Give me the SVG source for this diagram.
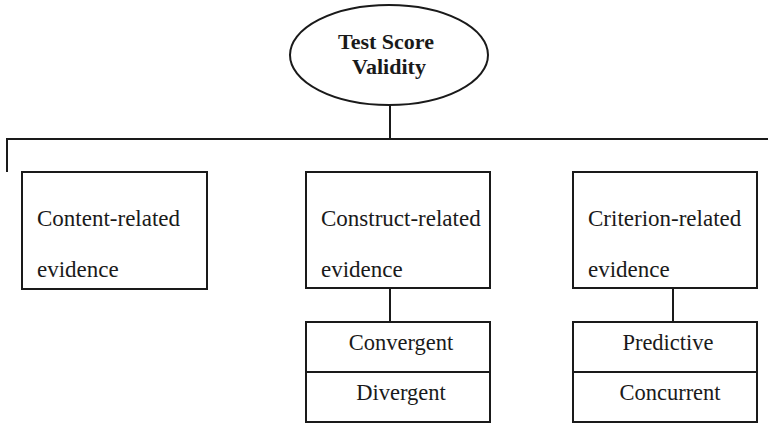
<svg xmlns="http://www.w3.org/2000/svg" width="768" height="424" viewBox="0 0 768 424">
  <style>
    .box { fill: #fff; stroke: #1a1a1a; stroke-width: 2; }
    .wire { fill: none; stroke: #1a1a1a; stroke-width: 2; }
    .lbl { font-family: "Liberation Serif", "Times New Roman", serif; font-size: 23px; fill: #1a1a1a; }
    .sub { font-size: 22.5px; }
    .mid { text-anchor: middle; }
    .title { font-weight: bold; font-size: 22px; }
  </style>
  <rect width="768" height="424" fill="#fff"/>

  <g id="connectors">
    <line class="wire" x1="390" y1="105" x2="390" y2="139"/>
    <polyline class="wire" points="7,172 7,139 768,139"/>
    <line class="wire" x1="390" y1="288" x2="390" y2="322"/>
    <line class="wire" x1="673" y1="288" x2="673" y2="322"/>
  </g>

  <g id="root">
    <ellipse class="box" cx="389" cy="55" rx="99" ry="50"/>
    <text class="lbl title mid" x="386" y="49">Test Score</text>
    <text class="lbl title mid" x="389" y="74">Validity</text>
  </g>

  <g id="content-related">
    <rect class="box" x="22" y="172" width="185" height="117"/>
    <text class="lbl" x="37" y="226">Content-related</text>
    <text class="lbl" x="37" y="277">evidence</text>
  </g>

  <g id="construct-related">
    <rect class="box" x="306" y="172" width="184" height="116"/>
    <text class="lbl" x="321" y="226">Construct-related</text>
    <text class="lbl" x="321" y="277">evidence</text>
  </g>

  <g id="criterion-related">
    <rect class="box" x="573" y="172" width="184" height="116"/>
    <text class="lbl" x="588" y="226">Criterion-related</text>
    <text class="lbl" x="588" y="277">evidence</text>
  </g>

  <g id="construct-types">
    <rect class="box" x="306" y="322" width="184" height="100"/>
    <line class="wire" x1="306" y1="372" x2="490" y2="372"/>
    <text class="lbl sub mid" x="401" y="350">Convergent</text>
    <text class="lbl sub mid" x="401" y="400">Divergent</text>
  </g>

  <g id="criterion-types">
    <rect class="box" x="573" y="322" width="184" height="100"/>
    <line class="wire" x1="573" y1="372" x2="757" y2="372"/>
    <text class="lbl sub mid" x="668" y="350">Predictive</text>
    <text class="lbl sub mid" x="670" y="400">Concurrent</text>
  </g>
</svg>
